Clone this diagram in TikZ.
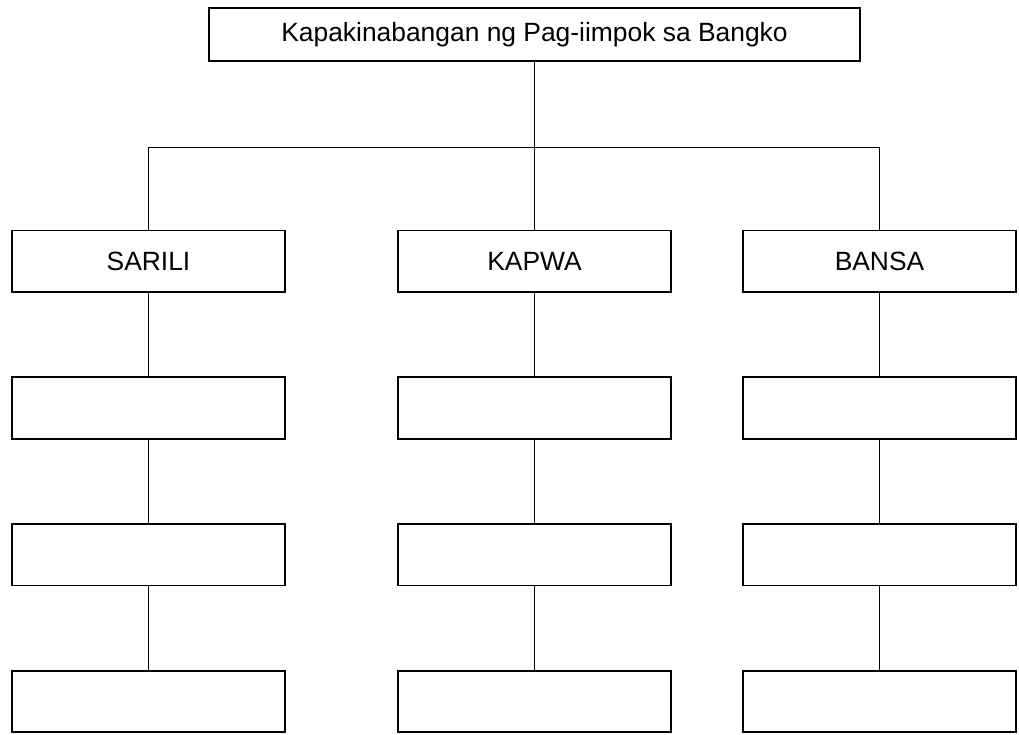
\documentclass[tikz,border=0pt]{standalone}
\usepackage{fontspec}
\setmainfont{Liberation Sans}
\usepackage{tikz}
\usetikzlibrary{positioning, calc}

\begin{document}
\begin{tikzpicture}[
    node distance=85.2pt,
    font=\fontsize{26.4pt}{32pt}\selectfont,
    title/.style={rectangle, minimum width=651pt, minimum height=53pt, inner sep=0pt, outer sep=0pt, text centered, draw=black, line width=1.8pt},
    group/.style={rectangle, minimum width=273pt, minimum height=61.5pt, inner sep=0pt, outer sep=0pt, text centered, draw=black, line width=1.8pt},
    item/.style={rectangle, minimum width=273pt, minimum height=61.5pt, inner sep=0pt, outer sep=0pt, draw=black, line width=1.8pt},
    link/.style={line width=1.8pt},
]
    \useasboundingbox (-534.5pt,34.5pt) rectangle (484.5pt,-699.5pt);

    % heading
    \node (benefit) [title] {Kapakinabangan ng Pag-iimpok sa Bangko};

    % three groups
    \node (kapwa) [group, below=169.5pt of benefit] {KAPWA};
    \node (sarili) [group, left=113pt of kapwa] {SARILI};
    \node (bansa) [group, right=72pt of kapwa] {BANSA};

    % empty boxes under each group
    \node (sarili_a) [item, below=of sarili] {};
    \node (sarili_b) [item, below=of sarili_a] {};
    \node (sarili_c) [item, below=of sarili_b] {};
    \node (kapwa_a) [item, below=of kapwa] {};
    \node (kapwa_b) [item, below=of kapwa_a] {};
    \node (kapwa_c) [item, below=of kapwa_b] {};
    \node (bansa_a) [item, below=of bansa] {};
    \node (bansa_b) [item, below=of bansa_a] {};
    \node (bansa_c) [item, below=of bansa_b] {};

    \coordinate (bar) at ($(benefit.south)!0.51!(kapwa.north)$);

    \draw [link] (benefit.south) -- (kapwa.north);
    \draw [link] (sarili.north) |- (bar) -| (bansa.north);
    \draw [link] (sarili) -- (sarili_a);
    \draw [link] (sarili_a) -- (sarili_b);
    \draw [link] (sarili_b) -- (sarili_c);
    \draw [link] (kapwa) -- (kapwa_a);
    \draw [link] (kapwa_a) -- (kapwa_b);
    \draw [link] (kapwa_b) -- (kapwa_c);
    \draw [link] (bansa) -- (bansa_a);
    \draw [link] (bansa_a) -- (bansa_b);
    \draw [link] (bansa_b) -- (bansa_c);

\end{tikzpicture}
\end{document}
